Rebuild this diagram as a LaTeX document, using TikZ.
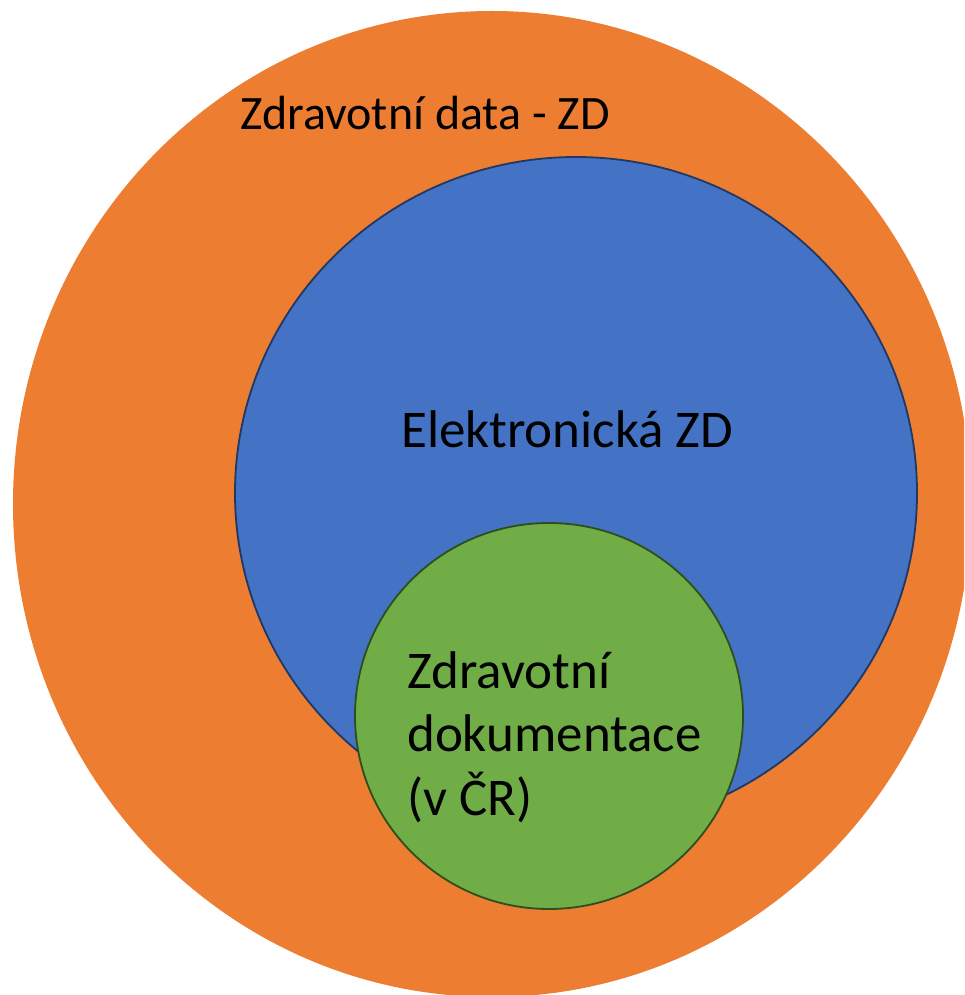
\documentclass[tikz,border=0pt]{standalone}
\usepackage{fontspec}
\setmainfont{Carlito}
\definecolor{zdorange}{HTML}{ED7D31}
\definecolor{zdblue}{HTML}{4472C4}
\definecolor{zdblueline}{HTML}{1F3864}
\definecolor{zdgreen}{HTML}{70AD47}
\definecolor{zdgreenline}{HTML}{2E4F1C}
\begin{document}
\begin{tikzpicture}[x=1pt,y=-1pt,
  lbl/.style={font=\fontsize{53}{63}\selectfont, text=black, inner sep=0pt, anchor=base west}]
  \useasboundingbox (0,0) rectangle (964,995);
  \begin{scope}
    \clip (0,0) rectangle (964,995);
    % outer set: health data
    \fill[zdorange] (492,504) ellipse [x radius=479, y radius=493];
  \end{scope}
  % electronic health data
  \filldraw[fill=zdblue, draw=zdblueline, line width=1.8pt] (576,493) ellipse [x radius=341, y radius=336];
  % health documentation
  \filldraw[fill=zdgreen, draw=zdgreenline, line width=1.8pt] (549,716) ellipse [x radius=194, y radius=193];
  \node[lbl, font=\fontsize{48}{58}\selectfont] (zd) at (240,130) {Zdravotní data - ZD};
  \node[lbl] (ezd) at (401,447) {Elektronická ZD};
  \node[lbl] (dok1) at (407,688) {Zdravotní};
  \node[lbl] (dok2) at (407,751) {dokumentace};
  \node[lbl] (dok3) at (407,815) {(v ČR)};
\end{tikzpicture}
\end{document}
